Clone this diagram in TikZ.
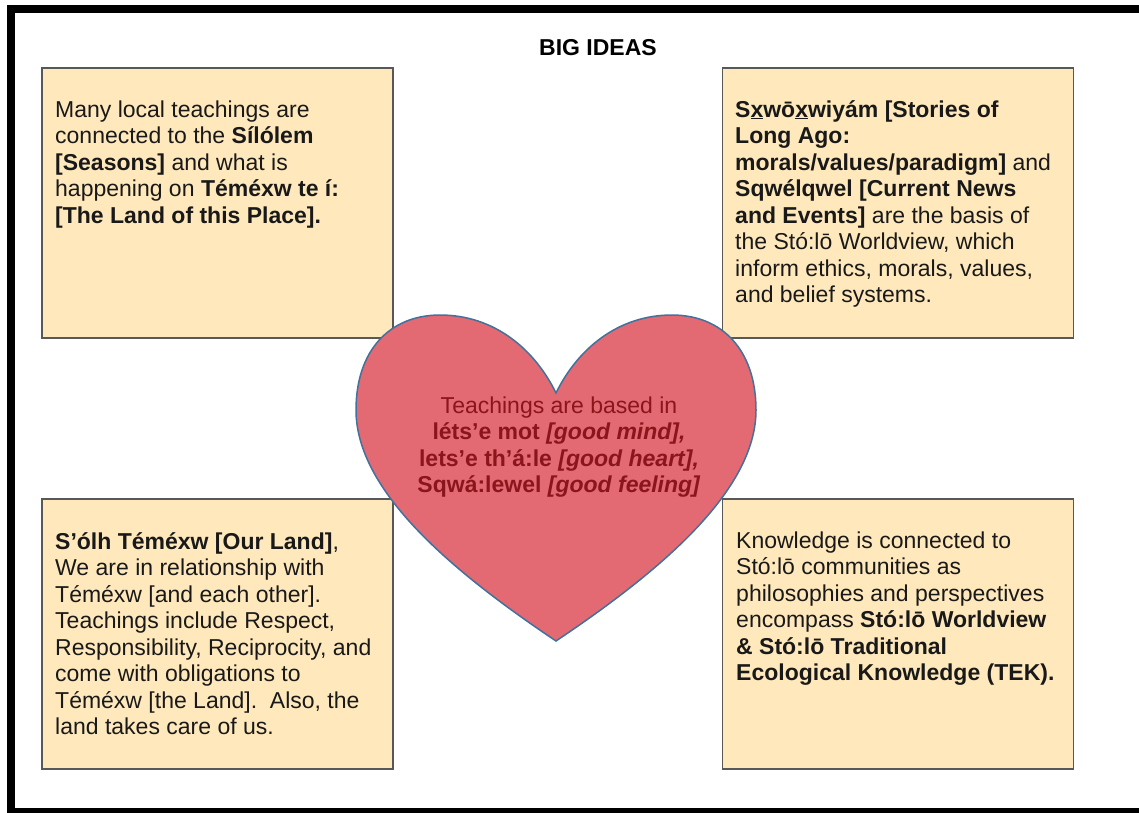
\documentclass[tikz,border=0pt]{standalone}
\usepackage{fontspec}
\setmainfont{Liberation Sans}

\definecolor{boxfill}{RGB}{255,233,188}
\definecolor{boxline}{RGB}{88,88,88}
\definecolor{heartfill}{RGB}{227,105,114}
\definecolor{heartline}{RGB}{65,113,156}
\definecolor{hearttext}{RGB}{138,22,28}

\begin{document}
\begin{tikzpicture}[x=1pt, y=-1pt,
    idea/.style={draw=boxline, line width=1.4pt, fill=boxfill,
        minimum width=351pt, minimum height=270pt, inner sep=0pt},
    ideatext/.style={anchor=base west, align=left, inner sep=0pt,
        text=black!90, font=\fontsize{23}{26.5}\selectfont}]

    \useasboundingbox (0,0) rectangle (1139,812);
    \clip (0,0) rectangle (1139,812);

    % frame
    \draw[line width=8pt] (11,9) rectangle (1160,812);

    \node[anchor=base, font=\fontsize{23}{26.5}\selectfont\bfseries] (title) at (598,55) {BIG IDEAS};

    % four boxes
    \node[idea] (tlbox) at (217.5,203) {};
    \node[idea] (trbox) at (898,203) {};
    \node[idea] (blbox) at (217.5,634) {};
    \node[idea] (brbox) at (898,634) {};

    % texts sit on the baseline of their last line
    \node[ideatext] (tltext) at (55,223) {Many local teachings are\\
        connected to the \textbf{Sílólem}\\
        \textbf{[Seasons]} and what is\\
        happening on \textbf{Téméxw te í:}\\
        \textbf{[The Land of this Place].}};

    \node[ideatext] (trtext) at (735,302.5) {\textbf{S\underline{x}wō\underline{x}wiyám [Stories of}\\
        \textbf{Long Ago:}\\
        \textbf{morals/values/paradigm]} and\\
        \textbf{Sqwélqwel [Current News}\\
        \textbf{and Events]} are the basis of\\
        the Stó:lō Worldview, which\\
        inform ethics, morals, values,\\
        and belief systems.};

    \node[ideatext] (bltext) at (55,734.5) {\textbf{S’ólh Téméxw [Our Land]},\\
        We are in relationship with\\
        Téméxw [and each other].\\
        Teachings include Respect,\\
        Responsibility, Reciprocity, and\\
        come with obligations to\\
        Téméxw [the Land].\ \ Also, the\\
        land takes care of us.};

    \node[ideatext] (brtext) at (736,680.5) {Knowledge is connected to\\
        Stó:lō communities as\\
        philosophies and perspectives\\
        encompass \textbf{Stó:lō Worldview}\\
        \textbf{\& Stó:lō Traditional}\\
        \textbf{Ecological Knowledge (TEK).}};

    % heart
    \draw[heartline, line width=1.5pt, fill=heartfill]
        (556,393)
        .. controls (535,350) and (495,315) .. (440,315)
        .. controls (390,315) and (356,350) .. (356,410)
        .. controls (356,490) and (450,570) .. (556,641)
        .. controls (662,570) and (756,490) .. (756,410)
        .. controls (756,350) and (722,315) .. (672,315)
        .. controls (617,315) and (577,350) .. (556,393)
        -- cycle;

    \node[anchor=base, align=center, inner sep=0pt, text=hearttext,
        font=\fontsize{23}{26.5}\selectfont] (core) at (559,492.5)
        {Teachings are based in\\
        \textbf{léts’e mot \textit{[good mind],}}\\
        \textbf{lets’e th’á:le \textit{[good heart],}}\\
        \textbf{Sqwá:lewel \textit{[good feeling]}}};
\end{tikzpicture}
\end{document}
